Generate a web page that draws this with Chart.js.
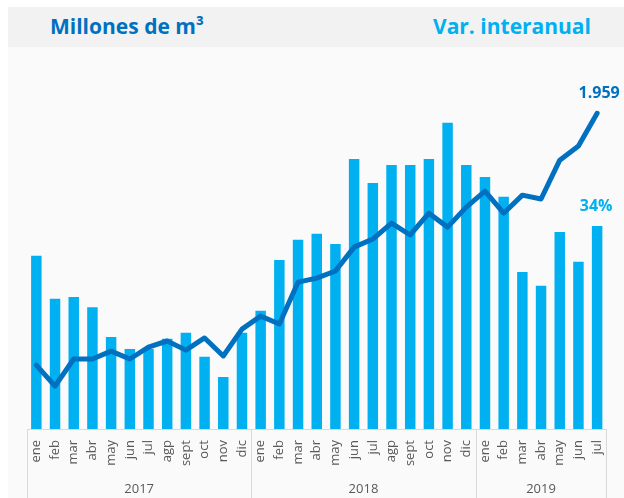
<!DOCTYPE html>
<html lang="es">
<head>
<meta charset="utf-8">
<title>Millones de m³ - Var. interanual</title>
<script src="https://cdn.jsdelivr.net/npm/chart.js@4.4.1/dist/chart.umd.min.js"></script>
<style>
  html, body { margin: 0; padding: 0; background: #fff; }
  body { width: 624px; height: 498px; position: relative; overflow: hidden; font-family: "Open Sans", sans-serif; }
  .panel { position: absolute; left: 8px; top: 7px; width: 616px; height: 491px; background: #fafafa; }
  .band { position: absolute; left: 8px; top: 7px; width: 616px; height: 40px; background: #f2f2f2; }
  .title { position: absolute; top: 12px; font-weight: 700; font-size: 21px; line-height: normal; white-space: nowrap; }
  #t1 { left: 50px; color: #0070c0; }
  #t2 { left: 433px; color: #00b0f0; }
  canvas { position: absolute; left: 0; top: 0; }
</style>
</head>
<body>
<div class="panel"></div>
<div class="band"></div>
<div class="title" id="t1">Millones de m³</div>
<div class="title" id="t2">Var. interanual</div>
<canvas id="chart" width="624" height="498"></canvas>

<script>
// meses de cada año (jul 2019 es el último dato)
const months2017 = ['ene', 'feb', 'mar', 'abr', 'may', 'jun', 'jul', 'agp', 'sept', 'oct', 'nov', 'dic'];
const months2018 = ['ene', 'feb', 'mar', 'abr', 'may', 'jun', 'jul', 'agp', 'sept', 'oct', 'nov', 'dic'];
const months2019 = ['ene', 'feb', 'mar', 'abr', 'may', 'jun', 'jul'];
const years = ['2017', '2018', '2019'];

// producción, millones de m³
const volume = [966, 883, 990, 990, 1021, 990, 1037, 1061, 1025, 1073, 1002, 1108,
                1159, 1128, 1293, 1309, 1337, 1431, 1463, 1526, 1479, 1565, 1510, 1589,
                1652, 1565, 1636, 1621, 1774, 1830, 1959];

// variación interanual, %
const yoy = [29.0, 21.8, 22.1, 20.4, 15.4, 13.4, 13.4, 15.1, 16.1, 12.1, 8.7, 16.1,
             19.8, 28.3, 31.7, 32.7, 31.0, 45.2, 41.2, 44.2, 44.2, 45.2, 51.3, 44.2,
             42.2, 38.9, 26.3, 24.0, 33.0, 28.0, 34.0];

const labels = [...months2017, ...months2018, ...months2019];
const groupSizes = [months2017.length, months2018.length, months2019.length];

// bordes y centros de cada año sobre el eje x2 (índices de categoría)
const groupEdges = [-0.5];
groupSizes.forEach(n => groupEdges.push(groupEdges[groupEdges.length - 1] + n));
const groupCenters = groupSizes.map((n, i) => groupEdges[i] + n / 2);

const DARK = '#0070c0';
const LIGHT = '#00b0f0';
const GRID = '#d9d9d9';

function fmtThousands(v) {
    return String(v).replace(/\B(?=(\d{3})+(?!\d))/g, '.');
}

const extras = {
    id: 'extras',
    afterDatasetsDraw(chart) {
        const ctx = chart.ctx;
        const x2 = chart.scales.x2;
        const top = chart.scales.x.top;
        const bottom = chart.height;

        ctx.save();
        ctx.strokeStyle = GRID;
        ctx.lineWidth = 1;
        ctx.beginPath();
        const left = Math.round(x2.getPixelForValue(groupEdges[0])) + 0.5;
        const right = Math.round(x2.getPixelForValue(groupEdges[groupEdges.length - 1])) + 0.5;
        ctx.moveTo(left, Math.round(top) + 0.5);
        ctx.lineTo(right, Math.round(top) + 0.5);
        groupEdges.forEach(e => {
            const px = Math.round(x2.getPixelForValue(e)) + 0.5;
            ctx.moveTo(px, top);
            ctx.lineTo(px, bottom);
        });
        ctx.stroke();

        // etiquetas del último dato
        ctx.font = 'bold 16px "Open Sans"';
        ctx.textAlign = 'center';
        ctx.textBaseline = 'alphabetic';
        const lineMeta = chart.getDatasetMeta(1);
        const lastPt = lineMeta.data[lineMeta.data.length - 1];
        ctx.fillStyle = DARK;
        ctx.fillText(fmtThousands(volume[volume.length - 1]), lastPt.x + 2, lastPt.y - 15);

        const barMeta = chart.getDatasetMeta(0);
        const lastBar = barMeta.data[barMeta.data.length - 1];
        ctx.fillStyle = LIGHT;
        ctx.fillText(Math.round(yoy[yoy.length - 1]) + '%', lastBar.x - 1, lastBar.y - 15);
        ctx.restore();
    }
};

const tickFont = { family: 'Open Sans', size: 13 };

new Chart(document.getElementById('chart'), {
    data: {
        labels: labels,
        datasets: [
            {
                type: 'bar',
                label: 'Var. interanual',
                data: yoy,
                backgroundColor: LIGHT,
                xAxisID: 'x',
                yAxisID: 'y',
                categoryPercentage: 1,
                barPercentage: 0.56,
                order: 2
            },
            {
                type: 'line',
                label: 'Millones de m³',
                data: volume,
                borderColor: DARK,
                borderWidth: 5,
                borderCapStyle: 'round',
                borderJoinStyle: 'round',
                pointRadius: 0,
                tension: 0,
                xAxisID: 'x',
                yAxisID: 'y1',
                order: 1
            }
        ]
    },
    options: {
        responsive: false,
        animation: false,
        layout: { padding: { top: 60, left: 27, right: 17, bottom: 0 } },
        plugins: { legend: { display: false }, tooltip: { enabled: false } },
        scales: {
            x: {
                type: 'category',
                weight: 0,
                grid: { display: false, drawTicks: false },
                border: { display: false },
                ticks: {
                    autoSkip: false,
                    minRotation: 90,
                    maxRotation: 90,
                    padding: 11,
                    color: '#595959',
                    font: tickFont
                },
                afterFit: s => { s.height = 50; }
            },
            x2: {
                type: 'linear',
                position: 'bottom',
                weight: 1,
                min: groupEdges[0],
                max: groupEdges[groupEdges.length - 1],
                grid: { display: false, drawTicks: false },
                border: { display: false },
                afterBuildTicks: s => { s.ticks = groupCenters.map(v => ({ value: v })); },
                ticks: {
                    autoSkip: false,
                    maxRotation: 0,
                    padding: 2,
                    color: '#595959',
                    font: tickFont,
                    callback: (v, i) => years[i]
                },
                afterFit: s => { s.height = 19; }
            },
            y: {
                display: false,
                min: 0,
                max: 61.8
            },
            y1: {
                display: false,
                min: 714,
                max: 2169
            }
        }
    },
    plugins: [extras]
});
</script>
</body>
</html>
